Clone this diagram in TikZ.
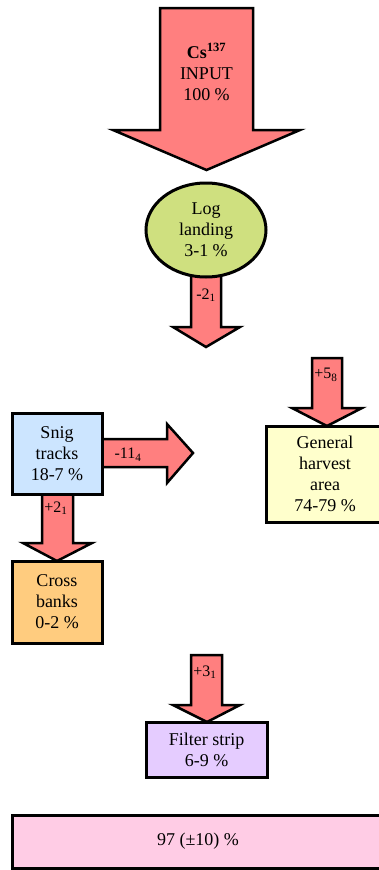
\documentclass[tikz,border=0pt]{standalone}
\usepackage{fontspec}
\setmainfont{Liberation Serif}
\usetikzlibrary{backgrounds,shapes.geometric}
\definecolor{arrowred}{HTML}{FF7F7F}
\definecolor{loggreen}{HTML}{CFE07F}
\definecolor{snigblue}{HTML}{CCE5FF}
\definecolor{harvestyellow}{HTML}{FFFFCC}
\definecolor{crossorange}{HTML}{FFCC7F}
\definecolor{filterlilac}{HTML}{E5CCFF}
\definecolor{totalpink}{HTML}{FFCCE5}
\tikzset{
  blockarrow/.style={fill=arrowred,draw=black,line width=2.5pt,line join=miter},
  boxnode/.style={draw=black,line width=3pt,align=center,inner sep=0pt,
    font=\fontsize{18}{21}\selectfont},
  lab/.style={font=\fontsize{16}{18}\selectfont,inner sep=0pt},
}
\begin{document}
\begin{tikzpicture}[x=1pt,y=-1pt]
\useasboundingbox (0,0) rectangle (378,870);

% nodes
\node[boxnode,ellipse,fill=loggreen,minimum width=120pt,minimum height=94pt] (log) at (206,230) {Log\\landing\\3-1 \%};
\node[boxnode,rectangle,fill=snigblue,minimum width=90pt,minimum height=81pt] (snig) at (57,453.5) {Snig\\tracks\\18-7 \%};
\node[boxnode,rectangle,fill=harvestyellow,minimum width=118pt,minimum height=96pt] (harv) at (325,474) {General\\harvest\\area\\74-79 \%};
\node[boxnode,rectangle,fill=crossorange,minimum width=90pt,minimum height=82pt] (cross) at (57,602) {Cross\\banks\\0-2 \%};
\node[boxnode,rectangle,fill=filterlilac,minimum width=121pt,minimum height=55pt] (filter) at (206.5,749.5) {Filter strip\\6-9 \%};
\node[boxnode,rectangle,fill=totalpink,minimum width=372pt,minimum height=53pt] (total) at (198,841.5) {97 (±10) \%};

\begin{scope}[on background layer]
% input arrow
\draw[blockarrow] (160,8) -- (253,8) -- (253,130) -- (300,130) -- (206.5,170) -- (113,130) -- (160,130) -- cycle;
% log landing out
\draw[blockarrow] (191,272) -- (221,272) -- (221,327) -- (240,327) -- (206,347) -- (173,327) -- (191,327) -- cycle;
% snig -> right
\draw[blockarrow] (97,439) -- (167,439) -- (167,424) -- (193,453) -- (167,483) -- (167,467) -- (97,467) -- cycle;
% into general harvest
\draw[blockarrow] (312,358) -- (342,358) -- (342,408) -- (362,408) -- (327,426) -- (292,408) -- (312,408) -- cycle;
% snig -> cross banks
\draw[blockarrow] (42,490) -- (73,490) -- (73,543) -- (92,543) -- (57,561) -- (23,543) -- (42,543) -- cycle;
% into filter strip
\draw[blockarrow] (191,655) -- (222,655) -- (222,705) -- (240,705) -- (207,722) -- (173,705) -- (191,705) -- cycle;
\end{scope}

% labels
\node[align=center,font=\fontsize{18}{21}\selectfont] (input) at (206.5,72) {\textbf{Cs}\textsuperscript{\textbf{137}}\\INPUT\\100 \%};
\node[lab] (l1) at (206,295) {-2\textsubscript{1}};
\node[lab] (l2) at (128,455) {-11\textsubscript{4}};
\node[lab] (l3) at (326,375) {+5\textsubscript{8}};
\node[lab] (l4) at (56,508) {+2\textsubscript{1}};
\node[lab] (l5) at (205,672) {+3\textsubscript{1}};
\end{tikzpicture}
\end{document}
